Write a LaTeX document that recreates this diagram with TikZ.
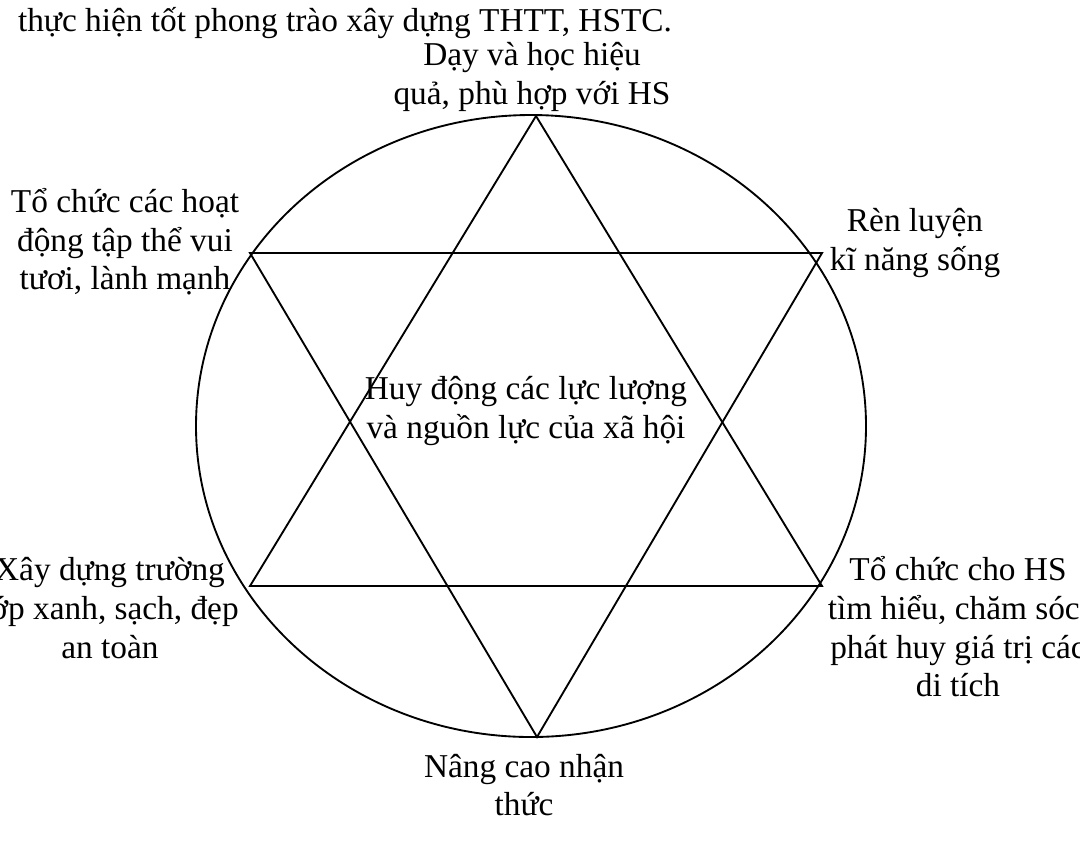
\documentclass[tikz,border=0pt]{standalone}
\usepackage{fontspec}
\setmainfont{Liberation Serif}
\usepackage{tikz}
\usetikzlibrary{positioning}
\tikzset{
  lbl/.style={align=center, inner sep=0pt, font=\fontsize{25}{29}\selectfont},
  edge/.style={line width=1.4pt, color=black}
}

\begin{document}
\begin{tikzpicture}[x=0.75pt, y=-0.75pt]
\useasboundingbox (0,0) rectangle (1080,851);

% Outer ellipse
\draw[edge] (531,426) ellipse [x radius=335, y radius=311];

% Star corners
\coordinate (top) at (536,116);
\coordinate (bot) at (537,737);
\coordinate (ul) at (250,253);
\coordinate (ur) at (822,253);
\coordinate (ll) at (250,586);
\coordinate (lr) at (822,586);

% Two triangles
\draw[edge, line join=miter] (top) -- (ll) -- (lr) -- cycle;
\draw[edge, line join=miter] (bot) -- (ul) -- (ur) -- cycle;

% Labels
\node[lbl] (head) at (345,23) {thực hiện tốt phong trào xây dựng THTT, HSTC.};
\node[lbl] (teach) at (532,77) {Dạy và học hiệu\\quả, phù hợp với HS};
\node[lbl] (group) at (125,242) {Tổ chức các hoạt\\động tập thể vui\\tươi, lành mạnh};
\node[lbl] (skill) at (915,243) {Rèn luyện\\kĩ năng sống};
\node[lbl] (mid) at (526,411) {Huy động các lực lượng\\và nguồn lực của xã hội};
\node[lbl] (school) at (110,608) {Xây dựng trường\\lớp xanh, sạch, đẹp\\an toàn};
\node[lbl] (relic) at (958,627) {Tổ chức cho HS\\tìm hiểu, chăm sóc,\\phát huy giá trị các\\di tích};
\node[lbl] (aware) at (524,785) {Nâng cao nhận\\thức};
\end{tikzpicture}
\end{document}
